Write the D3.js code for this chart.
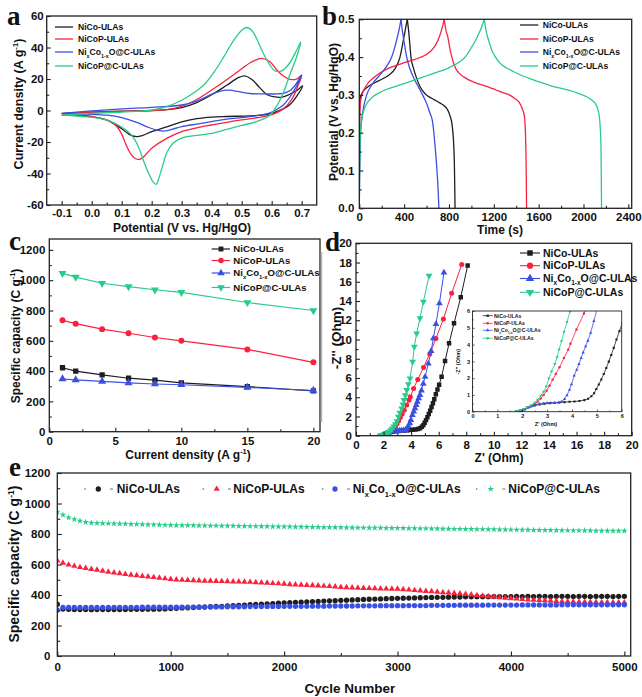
<!DOCTYPE html>
<html><head><meta charset="utf-8">
<script src="https://cdn.jsdelivr.net/npm/d3@7"></script>
<style>html,body{margin:0;padding:0;background:#fff;}svg{display:block;}</style>
</head><body>
<svg id="c" width="642" height="697"></svg>
<script>
// ================= DATA =================
const seriesNames = ["NiCo-ULAs","NiCoP-ULAs","NixCo1-xO@C-ULAs","NiCoP@C-ULAs"];
const colors = ["#1e1e1e","#f8223f","#3a50e4","#28cc8a"];

// (a) CV curves: [potential V, current density A/g], upper branch then lower branch
const cvNiCo = [[-0.1,-2.0],[-0.05,-1.4],[0.0,-1.0],[0.1,-0.4],[0.2,0.0],[0.25,0.5],[0.3,1.8],[0.35,5.0],[0.4,10.0],[0.45,16.0],[0.49,21.0],[0.51,22.0],[0.535,19.5],[0.56,14.5],[0.585,10.0],[0.61,8.6],[0.635,8.5],[0.66,10.3],[0.683,12.6],[0.703,15.6],
  [0.683,9.0],[0.661,3.8],[0.639,1.0],[0.61,-1.2],[0.583,-2.6],[0.528,-3.4],[0.45,-3.8],[0.4,-4.2],[0.35,-5.2],[0.3,-7.2],[0.25,-10.4],[0.2,-13.4],[0.17,-15.8],[0.15,-16.6],[0.13,-15.6],[0.11,-13.0],[0.08,-9.0],[0.05,-6.0],[0.0,-3.8],[-0.05,-2.6],[-0.1,-2.0]];
const cvNiCoP = [[-0.1,-1.8],[0.0,-1.0],[0.1,-0.5],[0.2,-0.1],[0.25,0.6],[0.3,2.6],[0.35,7.0],[0.4,13.0],[0.45,19.5],[0.5,26.5],[0.53,30.5],[0.567,33.1],[0.594,31.0],[0.617,25.7],[0.639,21.9],[0.661,19.8],[0.683,19.9],[0.7,22.5],
  [0.685,14.5],[0.672,8.8],[0.655,4.0],[0.639,1.2],[0.615,-1.5],[0.594,-2.9],[0.55,-4.6],[0.5,-6.0],[0.45,-7.5],[0.4,-9.2],[0.35,-11.0],[0.3,-13.4],[0.25,-17.7],[0.2,-24.0],[0.175,-29.0],[0.16,-31.0],[0.145,-30.5],[0.13,-27.5],[0.115,-22.0],[0.1,-15.0],[0.085,-10.5],[0.06,-7.0],[0.03,-5.0],[0.0,-3.9],[-0.05,-3.2],[-0.1,-2.9]];
const cvNixCo = [[-0.1,-1.8],[0.0,-0.3],[0.1,1.0],[0.2,2.0],[0.3,3.5],[0.35,6.0],[0.38,8.5],[0.41,11.2],[0.44,12.8],[0.46,12.9],[0.49,12.0],[0.528,10.8],[0.58,10.5],[0.62,10.6],[0.639,10.9],[0.66,12.5],[0.68,16.5],[0.7,22.5],
  [0.686,16.5],[0.672,12.0],[0.655,7.0],[0.639,3.5],[0.615,0.5],[0.594,-1.5],[0.528,-3.9],[0.45,-5.5],[0.4,-7.0],[0.35,-8.6],[0.3,-10.3],[0.27,-11.8],[0.245,-13.0],[0.22,-12.6],[0.19,-10.8],[0.15,-7.5],[0.1,-4.5],[0.05,-3.0],[0.0,-2.4],[-0.1,-2.0]];
const cvNiCoPC = [[-0.1,-2.9],[0.0,-1.8],[0.1,-1.0],[0.2,0.3],[0.25,2.4],[0.3,6.5],[0.35,12.5],[0.38,17.5],[0.41,25.0],[0.44,34.0],[0.47,43.5],[0.5,51.0],[0.517,52.7],[0.535,50.5],[0.555,43.5],[0.572,36.3],[0.594,28.9],[0.611,25.1],[0.633,25.1],[0.655,28.9],[0.678,36.3],[0.697,43.5],
  [0.683,34.0],[0.661,23.0],[0.639,11.5],[0.617,3.0],[0.594,-3.0],[0.55,-7.0],[0.5,-9.5],[0.45,-12.0],[0.4,-14.5],[0.35,-15.8],[0.3,-17.5],[0.27,-21.0],[0.25,-27.0],[0.235,-36.0],[0.222,-44.0],[0.215,-46.9],[0.205,-45.5],[0.19,-40.0],[0.175,-33.0],[0.16,-25.0],[0.145,-19.0],[0.13,-15.0],[0.1,-10.5],[0.05,-6.0],[0.0,-4.3],[-0.1,-2.9]];

// (b) GCD curves: [time s, potential V]
const gcdNiCo = [[0,0],[1,0.12],[2,0.22],[4,0.27],[8,0.29],[25,0.305],[80,0.322],[170,0.337],[259,0.351],[318,0.369],[363,0.4],[393,0.445],[412,0.475],[428,0.5],
  [440,0.47],[452,0.43],[461,0.4],[482,0.372],[510,0.345],[541,0.322],[590,0.302],[645,0.291],[700,0.282],[749,0.273],[785,0.262],[809,0.245],[828,0.22],[840,0.18],[848,0.12],[852,0.05],[854,0.0]];
const gcdNiCoP = [[0,0],[1,0.1],[2,0.18],[4,0.25],[15,0.29],[51,0.319],[140,0.348],[259,0.37],[378,0.383],[497,0.394],[586,0.405],[660,0.423],[700,0.443],[730,0.468],[758,0.5],
  [770,0.475],[789,0.454],[810,0.42],[833,0.392],[860,0.37],[892,0.357],[935,0.347],[981,0.339],[1040,0.332],[1100,0.326],[1160,0.32],[1219,0.313],[1280,0.306],[1338,0.3],[1390,0.29],[1427,0.28],[1455,0.262],[1472,0.245],[1482,0.2],[1487,0.14],[1490,0.07],[1492,0.0]];
const gcdNixCo = [[0,0],[3,0.08],[7,0.15],[12,0.2],[20,0.23],[40,0.27],[66,0.3],[110,0.326],[170,0.348],[230,0.37],[290,0.401],[333,0.445],[360,0.48],[372,0.5],
  [382,0.475],[392,0.454],[408,0.425],[422,0.401],[445,0.375],[467,0.357],[496,0.338],[526,0.322],[556,0.305],[586,0.287],[610,0.27],[630,0.252],[651,0.233],[665,0.2],[680,0.15],[693,0.1],[703,0.05],[710,0.0]];
const gcdNiCoPC = [[0,0],[2,0.08],[5,0.15],[10,0.2],[21,0.233],[51,0.268],[110,0.292],[199,0.309],[318,0.322],[437,0.334],[556,0.346],[675,0.358],[794,0.371],[883,0.385],[950,0.402],[1000,0.425],[1047,0.45],[1085,0.475],[1115,0.5],
  [1125,0.48],[1136,0.463],[1158,0.44],[1181,0.419],[1215,0.4],[1255,0.384],[1310,0.372],[1374,0.362],[1460,0.35],[1552,0.34],[1640,0.331],[1731,0.322],[1820,0.316],[1909,0.309],[1970,0.302],[2028,0.295],[2070,0.287],[2103,0.278],[2125,0.265],[2141,0.243],[2150,0.21],[2156,0.16],[2159,0.08],[2161,0.0]];

// (c) rate capability
const cCurrent = [1,2,4,6,8,10,15,20];
const cNiCo   = [422,400,375,353,340,322,298,270];
const cNiCoP  = [735,713,677,650,622,600,543,458];
const cNixCo  = [348,342,332,322,315,310,292,272];
const cNiCoPC = [1045,1020,980,958,937,920,853,800];

// (d) Nyquist: [Z', -Z'']
const dNiCo = [[1.9,0.0],[2.0,0.08],[2.1,0.16],[2.2,0.24],[2.35,0.32],[2.5,0.38],[2.7,0.43],[2.9,0.47],[3.1,0.5],[3.3,0.53],[3.5,0.55],[3.7,0.57],[3.9,0.59],[4.1,0.61],[4.3,0.64],[4.5,0.69],[4.65,0.77],[4.78,0.92],[4.89,1.1],[4.98,1.35],[5.08,1.62],[5.18,1.92],[5.28,2.25],[5.38,2.6],[5.48,2.98],[5.58,3.38],[5.68,3.8],[5.79,4.3],[5.91,4.8],[6.03,5.3],[6.21,6.13],[6.46,7.76],[6.75,9.6],[7.11,11.68],[7.6,14.4],[8.1,17.7]];
const dNiCoP = [[1.75,0.03],[1.9,0.08],[2.05,0.15],[2.2,0.24],[2.35,0.34],[2.5,0.46],[2.62,0.6],[2.74,0.78],[2.86,1.0],[2.98,1.25],[3.1,1.55],[3.22,1.9],[3.35,2.25],[3.5,2.65],[3.68,3.2],[3.85,3.7],[3.94,4.05],[4.18,4.9],[4.48,5.85],[4.9,7.1],[5.35,8.5],[5.8,10.1],[6.34,12.13],[6.94,14.8],[7.67,17.8]];
const dNixCo = [[1.95,0.03],[2.1,0.12],[2.25,0.24],[2.4,0.34],[2.55,0.42],[2.7,0.47],[2.85,0.5],[3.0,0.52],[3.15,0.53],[3.3,0.53],[3.45,0.54],[3.58,0.6],[3.7,0.75],[3.8,0.98],[3.9,1.3],[3.98,1.63],[4.09,2.15],[4.19,2.5],[4.28,2.84],[4.37,3.2],[4.45,3.53],[4.55,3.9],[4.64,4.23],[4.75,4.7],[4.88,5.4],[5.01,6.12],[5.25,7.5],[5.45,8.8],[5.61,10.12],[5.8,11.6],[6.05,13.76],[6.38,16.95]];
const dNiCoPC = [[1.75,0.03],[1.9,0.08],[2.05,0.15],[2.2,0.25],[2.35,0.38],[2.5,0.54],[2.62,0.72],[2.74,0.95],[2.86,1.2],[2.97,1.5],[3.07,1.98],[3.18,2.4],[3.31,2.84],[3.4,3.25],[3.48,3.71],[3.58,4.2],[3.68,4.75],[3.8,5.35],[3.92,5.96],[4.11,7.69],[4.23,9.25],[4.4,10.64],[4.64,12.2],[4.89,13.93],[5.3,16.64]];

// (e) cycling
const eCycles = [0,50,100,150,200,250,300,350,400,450,500,550,600,650,700,750,800,850,900,950,1000,
 1050,1100,1150,1200,1250,1300,1350,1400,1450,1500,1550,1600,1650,1700,1750,1800,1850,1900,1950,2000,
 2050,2100,2150,2200,2250,2300,2350,2400,2450,2500,2550,2600,2650,2700,2750,2800,2850,2900,2950,3000,
 3050,3100,3150,3200,3250,3300,3350,3400,3450,3500,3550,3600,3650,3700,3750,3800,3850,3900,3950,4000,
 4050,4100,4150,4200,4250,4300,4350,4400,4450,4500,4550,4600,4650,4700,4750,4800,4850,4900,4950,5000];
const eNiCo = [340,308,306,305,305,305,304,305,305,305,305,305,305,306,306,306,307,307,308,309,311,
 313,315,316,318,320,321,323,325,326,328,330,332,334,336,338,340,342,344,346,348,
 350,352,353,355,357,358,360,362,363,365,366,368,369,371,372,373,374,376,377,378,
 379,380,381,382,383,384,385,385,386,387,387,388,388,389,389,389,390,390,390,390,
 391,390,391,390,391,391,390,391,391,391,390,391,391,390,391,391,391,390,391,391];
const eNiCoP = [625,610,598,590,582,576,570,564,558,552,547,542,537,532,528,524,520,516,512,508,504,
 501,499,497,496,494,493,492,491,490,489,488,487,486,485,483,481,479,477,475,473,
 470,468,466,465,463,461,459,457,455,452,450,448,446,445,444,443,442,441,440,440,
 437,434,431,428,425,423,420,417,415,412,409,405,402,398,395,391,388,384,381,378,
 375,372,370,368,366,364,362,360,358,357,356,355,354,354,353,352,352,351,351,350];
const eNixCo = [300,318,318,318,318,318,318,318,318,319,319,319,319,319,319,320,320,320,320,320,320,
 320,321,321,321,321,322,322,322,322,323,323,323,323,324,324,324,325,325,325,326,
 326,326,326,327,327,327,327,328,328,328,328,328,329,329,329,329,330,330,330,330,
 330,331,331,331,331,332,332,332,332,332,333,333,333,333,333,334,334,334,334,334,
 334,335,335,335,335,335,335,335,336,336,336,336,336,336,336,336,336,336,336,336];
const eNiCoPC = [945,925,908,896,886,878,873,871,870,869,868,867,866,865,864,863,862,861,860,859,858,
 857,857,856,856,855,855,854,854,853,853,853,852,852,851,851,850,850,849,849,848,
 848,847,847,846,845,845,844,844,843,843,842,842,841,841,840,840,840,839,839,838,
 838,837,837,836,836,835,835,834,834,833,833,832,832,831,831,830,830,829,829,828,
 828,827,827,826,826,825,825,824,824,823,823,823,822,822,821,821,821,820,820,820];

// tick labels
const aXTicks = [-0.1,0,0.1,0.2,0.3,0.4,0.5,0.6,0.7];
const aYTicks = [-60,-40,-20,0,20,40,60];
const bXTicks = [0,400,800,1200,1600,2000,2400];
const bYTicks = [0,0.1,0.2,0.3,0.4,0.5];
const cXTicks = [0,5,10,15,20];
const cYTicks = [0,200,400,600,800,1000,1200];
const dTicks = [0,2,4,6,8,10,12,14,16,18,20];
const insetTicks = [0,1,2,3,4,5,6];
const eXTicks = [0,1000,2000,3000,4000,5000];
const eYTicks = [0,200,400,600,800,1000,1200];

// ================= DRAWING =================
const svg = d3.select("#c");
const FONT = "'Liberation Sans', Arial, Helvetica, sans-serif";
const SERIF = "'Liberation Serif', 'Times New Roman', serif";
const defs = svg.append("defs");

function rich(t, parts, fs){
  let shift = 0;
  parts.forEach(p=>{
    const target = p.sub ? fs*0.3 : (p.sup ? -fs*0.4 : 0);
    const ts = t.append("tspan").attr("dy",(target-shift).toFixed(2)).text(p.t);
    if(p.sub||p.sup) ts.attr("font-size",(fs*0.62).toFixed(2));
    shift = target;
  });
}
function label(parent, parts, x, y, fs, opt={}){
  const t = parent.append("text").attr("x",x).attr("y",y+fs*0.35)
    .attr("font-family",FONT).attr("font-weight","bold").attr("font-size",fs)
    .attr("fill",opt.fill||"#111").attr("text-anchor",opt.anchor||"start");
  if(opt.ls) t.attr("letter-spacing",opt.ls);
  rich(t, parts, fs);
  return t;
}
function vlabel(parent, parts, x, y, fs){
  const g = parent.append("g").attr("transform",`translate(${x},${y}) rotate(-90)`);
  label(g, parts, 0, 0, fs, {anchor:"middle"});
}
const seriesParts = [[{t:"NiCo-ULAs"}],[{t:"NiCoP-ULAs"}],
  [{t:"Ni"},{t:"x",sub:1},{t:"Co"},{t:"1-x",sub:1},{t:"O@C-ULAs"}],[{t:"NiCoP@C-ULAs"}]];

function minorBetween(ticks){
  const out=[]; for(let i=0;i<ticks.length-1;i++) out.push((ticks[i]+ticks[i+1])/2); return out;
}

function makePanel(o){
  const g = svg.append("g");
  const x = d3.scaleLinear().domain(o.xd).range([o.L,o.R]);
  const y = d3.scaleLinear().domain(o.yd).range([o.B,o.T]);
  const cid = "clip-"+o.name;
  defs.append("clipPath").attr("id",cid).append("rect")
    .attr("x",o.L).attr("y",o.T).attr("width",o.R-o.L).attr("height",o.B-o.T);
  if(o.bg) g.append("rect").attr("x",o.L).attr("y",o.T).attr("width",o.R-o.L).attr("height",o.B-o.T).attr("fill","#fff");
  const data = g.append("g").attr("clip-path",`url(#${cid})`);
  const axes = g.append("g");
  const ml=o.ml||4, nl=o.nl||2.5;
  axes.append("g").attr("transform",`translate(0,${o.B})`)
    .call(d3.axisBottom(x).tickValues(o.xMinor).tickSizeInner(-nl).tickSizeOuter(0).tickFormat(""));
  axes.append("g").attr("transform",`translate(0,${o.B})`)
    .call(d3.axisBottom(x).tickValues(o.xMajor).tickSizeInner(-ml).tickSizeOuter(0).tickPadding(o.xPad).tickFormat(o.xFmt));
  axes.append("g").attr("transform",`translate(${o.L},0)`)
    .call(d3.axisLeft(y).tickValues(o.yMinor).tickSizeInner(-nl).tickSizeOuter(0).tickFormat(""));
  axes.append("g").attr("transform",`translate(${o.L},0)`)
    .call(d3.axisLeft(y).tickValues(o.yMajor).tickSizeInner(-ml).tickSizeOuter(0).tickPadding(o.yPad).tickFormat(o.yFmt));
  axes.selectAll(".domain").remove();
  axes.selectAll(".tick line").attr("stroke","#222").attr("stroke-width",o.tw||1.1);
  axes.selectAll("g").attr("font-family",FONT).attr("font-size",o.fs).attr("font-weight","bold");
  axes.selectAll(".tick text").attr("fill","#111");
  g.append("rect").attr("x",o.L).attr("y",o.T).attr("width",o.R-o.L).attr("height",o.B-o.T)
    .attr("fill","none").attr("stroke","#222").attr("stroke-width",o.fw||1.3);
  return {g,x,y,data};
}
const fmt1 = d=>d.toFixed(1);
const fmt0 = d=>String(d);

// panel letters
[["a",7,24.5],["b",322,24.5],["c",9,250],["d",325,251],["e",9,476]].forEach(([t,x,y])=>{
  svg.append("text").attr("x",x).attr("y",y).attr("font-family",SERIF).attr("font-weight","bold")
    .attr("font-size",27).attr("fill","#111").text(t);
});

// ---------- (a) ----------
const A = makePanel({name:"a",L:46.7,R:316.7,T:16,B:205,xd:[-0.15,0.75],yd:[-60,60],
  xMajor:aXTicks,xMinor:minorBetween(aXTicks),yMajor:aYTicks,yMinor:minorBetween(aYTicks),
  xFmt:fmt1,yFmt:fmt0,fs:11.5,xPad:4,yPad:3});
const cvLine = d3.line().x(d=>A.x(d[0])).y(d=>A.y(d[1])).curve(d3.curveCatmullRom.alpha(0.5));
[cvNiCo,cvNiCoP,cvNixCo,cvNiCoPC].forEach((d,i)=>{
  A.data.append("path").attr("d",cvLine(d)).attr("fill","none").attr("stroke",colors[i]).attr("stroke-width",1.3);
});
[27,39,52,66].forEach((ry,i)=>{
  A.g.append("line").attr("x1",55).attr("x2",73).attr("y1",ry).attr("y2",ry).attr("stroke",colors[i]).attr("stroke-width",1.3);
  label(A.g, seriesParts[i], 78, ry, 8.6);
});
vlabel(svg,[{t:"Current density (A g"},{t:"-1",sup:1},{t:")"}],18.5,104,12.5);
label(svg,[{t:"Potential (V vs. Hg/HgO)"}],182,228,12,{anchor:"middle"});

// ---------- (b) ----------
const B = makePanel({name:"b",L:359.3,R:631.7,T:19.3,B:208.3,xd:[0,2430],yd:[0,0.5],
  xMajor:bXTicks,xMinor:minorBetween(bXTicks),yMajor:bYTicks,yMinor:minorBetween(bYTicks),
  xFmt:fmt0,yFmt:fmt1,fs:11.5,xPad:5,yPad:5});
const gcdLine = d3.line().x(d=>B.x(d[0])).y(d=>B.y(d[1])).curve(d3.curveMonotoneX);
[gcdNiCo,gcdNiCoP,gcdNixCo,gcdNiCoPC].forEach((d,i)=>{
  const k = d3.maxIndex(d,p=>p[1]);
  [d.slice(0,k+1), d.slice(k)].forEach(seg=>{
    B.data.append("path").attr("d",gcdLine(seg)).attr("fill","none").attr("stroke",colors[i]).attr("stroke-width",1.3);
  });
});
[25,39,52,66].forEach((ry,i)=>{
  B.g.append("line").attr("x1",520).attr("x2",538.3).attr("y1",ry).attr("y2",ry).attr("stroke",colors[i]).attr("stroke-width",1.3);
  label(B.g, seriesParts[i], 542.7, ry, 8.6);
});
vlabel(svg,[{t:"Potential (V vs. Hg/HgO)"}],333.5,112,12);
label(svg,[{t:"Time (s)"}],500,230,12,{anchor:"middle"});

// symbol helpers
const symTypes = [d3.symbolSquare,d3.symbolCircle,d3.symbolTriangle,d3.symbolTriangle];
function sym(parent,i,x,y,size){
  parent.append("path").attr("d",d3.symbol(symTypes[i],size)())
    .attr("transform",`translate(${x},${y})`+(i===3?" rotate(180)":""))
    .attr("fill",colors[i]).attr("stroke","none");
}

// ---------- (c) ----------
const C = makePanel({name:"c",L:49.3,R:320,T:239,B:431.7,xd:[0,20.5],yd:[0,1272],
  xMajor:cXTicks,xMinor:minorBetween(cXTicks),yMajor:cYTicks,yMinor:minorBetween(cYTicks),
  xFmt:fmt0,yFmt:fmt0,fs:11.5,xPad:5,yPad:4});
[cNiCo,cNiCoP,cNixCo,cNiCoPC].forEach((vals,i)=>{
  const pts = cCurrent.map((c,j)=>[c,vals[j]]);
  C.data.append("path").attr("d",d3.line().x(d=>C.x(d[0])).y(d=>C.y(d[1]))(pts))
    .attr("fill","none").attr("stroke",colors[i]).attr("stroke-width",1.2);
  pts.forEach(p=>sym(C.data,i,C.x(p[0]),C.y(p[1]),28));
});
[249,260.5,273,287.5].forEach((ry,i)=>{
  C.g.append("line").attr("x1",211.7).attr("x2",230).attr("y1",ry).attr("y2",ry).attr("stroke",colors[i]).attr("stroke-width",1.2);
  sym(C.g,i,221,ry,24);
  label(C.g, seriesParts[i], 233.3, ry, 9.6);
});
vlabel(svg,[{t:"Specific capacity (C g"},{t:"-1",sup:1},{t:")"}],15.5,336,12);
label(svg,[{t:"Current density (A g"},{t:"-1",sup:1},{t:")"}],188,455,12,{anchor:"middle"});

// ---------- (d) ----------
svg.append("line").attr("x1",321.5).attr("x2",321.5).attr("y1",252).attr("y2",422).attr("stroke","#b5b5b5").attr("stroke-width",1.5);
const D = makePanel({name:"d",L:356,R:631.7,T:243.3,B:435.7,xd:[0,20],yd:[0,20],
  xMajor:dTicks,xMinor:minorBetween(dTicks),yMajor:dTicks,yMinor:minorBetween(dTicks),
  xFmt:fmt0,yFmt:fmt0,fs:11.5,xPad:5,yPad:4});
const dSets = [dNiCo,dNiCoP,dNixCo,dNiCoPC];
dSets.forEach((pts,i)=>{
  D.data.append("path").attr("d",d3.line().x(d=>D.x(d[0])).y(d=>D.y(d[1]))(pts))
    .attr("fill","none").attr("stroke",colors[i]).attr("stroke-width",1);
  pts.forEach(p=>sym(D.data,i,D.x(p[0]),D.y(p[1]),20));
});
[253,265.7,278.5,292.3].forEach((ry,i)=>{
  D.g.append("line").attr("x1",520).attr("x2",540).attr("y1",ry).attr("y2",ry).attr("stroke",colors[i]).attr("stroke-width",1.1);
  sym(D.g,i,530,ry,30);
  label(D.g, seriesParts[i], 543, ry, 10.5);
});
vlabel(svg,[{t:"-Z'' (Ohm)"}],336,338,13.5);
label(svg,[{t:"Z' (Ohm)"}],499,457.5,12,{anchor:"middle"});

// inset
const I = makePanel({name:"inset",L:472.5,R:621.7,T:311,B:411.7,xd:[0,6],yd:[0,6],bg:true,
  xMajor:insetTicks,xMinor:minorBetween(insetTicks),yMajor:insetTicks,yMinor:minorBetween(insetTicks),
  xFmt:fmt0,yFmt:fmt0,fs:5.5,xPad:2.5,yPad:2.5,ml:2.2,nl:1.3,tw:0.7,fw:0.9});
dSets.forEach((pts,i)=>{
  I.data.append("path").attr("d",d3.line().x(d=>I.x(d[0])).y(d=>I.y(d[1]))(pts))
    .attr("fill","none").attr("stroke",colors[i]).attr("stroke-width",0.8);
  pts.forEach(p=>sym(I.data,i,I.x(p[0]),I.y(p[1]),4.5));
});
[315.7,323.3,330.3,338.3].forEach((ry,i)=>{
  I.g.append("line").attr("x1",482.7).attr("x2",492.7).attr("y1",ry).attr("y2",ry).attr("stroke",colors[i]).attr("stroke-width",0.8);
  sym(I.g,i,487.7,ry,5);
  label(I.g, seriesParts[i], 494, ry, 5.2);
});
vlabel(svg,[{t:"-Z'' (Ohm)"}],458,361.7,5.5);
label(svg,[{t:"Z' (Ohm)"}],546,424.5,5.5,{anchor:"middle"});

// ---------- (e) ----------
const E = makePanel({name:"e",L:57.3,R:630.7,T:473,B:656,xd:[0,5056],yd:[0,1200],
  xMajor:eXTicks,xMinor:minorBetween(eXTicks),yMajor:eYTicks,yMinor:minorBetween(eYTicks),
  xFmt:fmt0,yFmt:fmt0,fs:11.5,xPad:7,yPad:7,ml:4.5,nl:3});
const eSym = [d3.symbolCircle,d3.symbolTriangle,d3.symbolCircle,d3.symbolStar];
const eSize = [22,17,22,14];
[eNiCo,eNiCoP,eNixCo,eNiCoPC].forEach((vals,i)=>{
  const gen = d3.symbol(eSym[i],eSize[i]);
  E.data.append("g").selectAll("path").data(eCycles.map((c,j)=>[c,vals[j]])).join("path")
    .attr("d",gen()).attr("transform",d=>`translate(${E.x(d[0])},${E.y(d[1])})`)
    .attr("fill",colors[i]);
});
const eLeg = [[85,98.3,110,116.7],[203.3,216.7,228,233.3],[322.7,335,347,352.7],[476.7,490.7,502.3,508.3]];
eLeg.forEach((p,i)=>{
  const ry = 489;
  E.g.append("circle").attr("cx",p[0]).attr("cy",ry).attr("r",0.9).attr("fill","#6fae98");
  E.g.append("path").attr("d",d3.symbol(eSym[i],eSize[i])()).attr("transform",`translate(${p[1]},${ry})`).attr("fill",colors[i]);
  E.g.append("line").attr("x1",p[2]).attr("x2",p[2]+3).attr("y1",ry).attr("y2",ry).attr("stroke","#888").attr("stroke-width",1.2);
  label(E.g, seriesParts[i], p[3], ry, 12);
});
vlabel(svg,[{t:"Specific capacity (C g"},{t:"-1",sup:1},{t:")"}],14.5,564,14);
label(svg,[{t:"Cycle Number"}],350,688,13.5,{anchor:"middle"});
</script>
</body></html>
